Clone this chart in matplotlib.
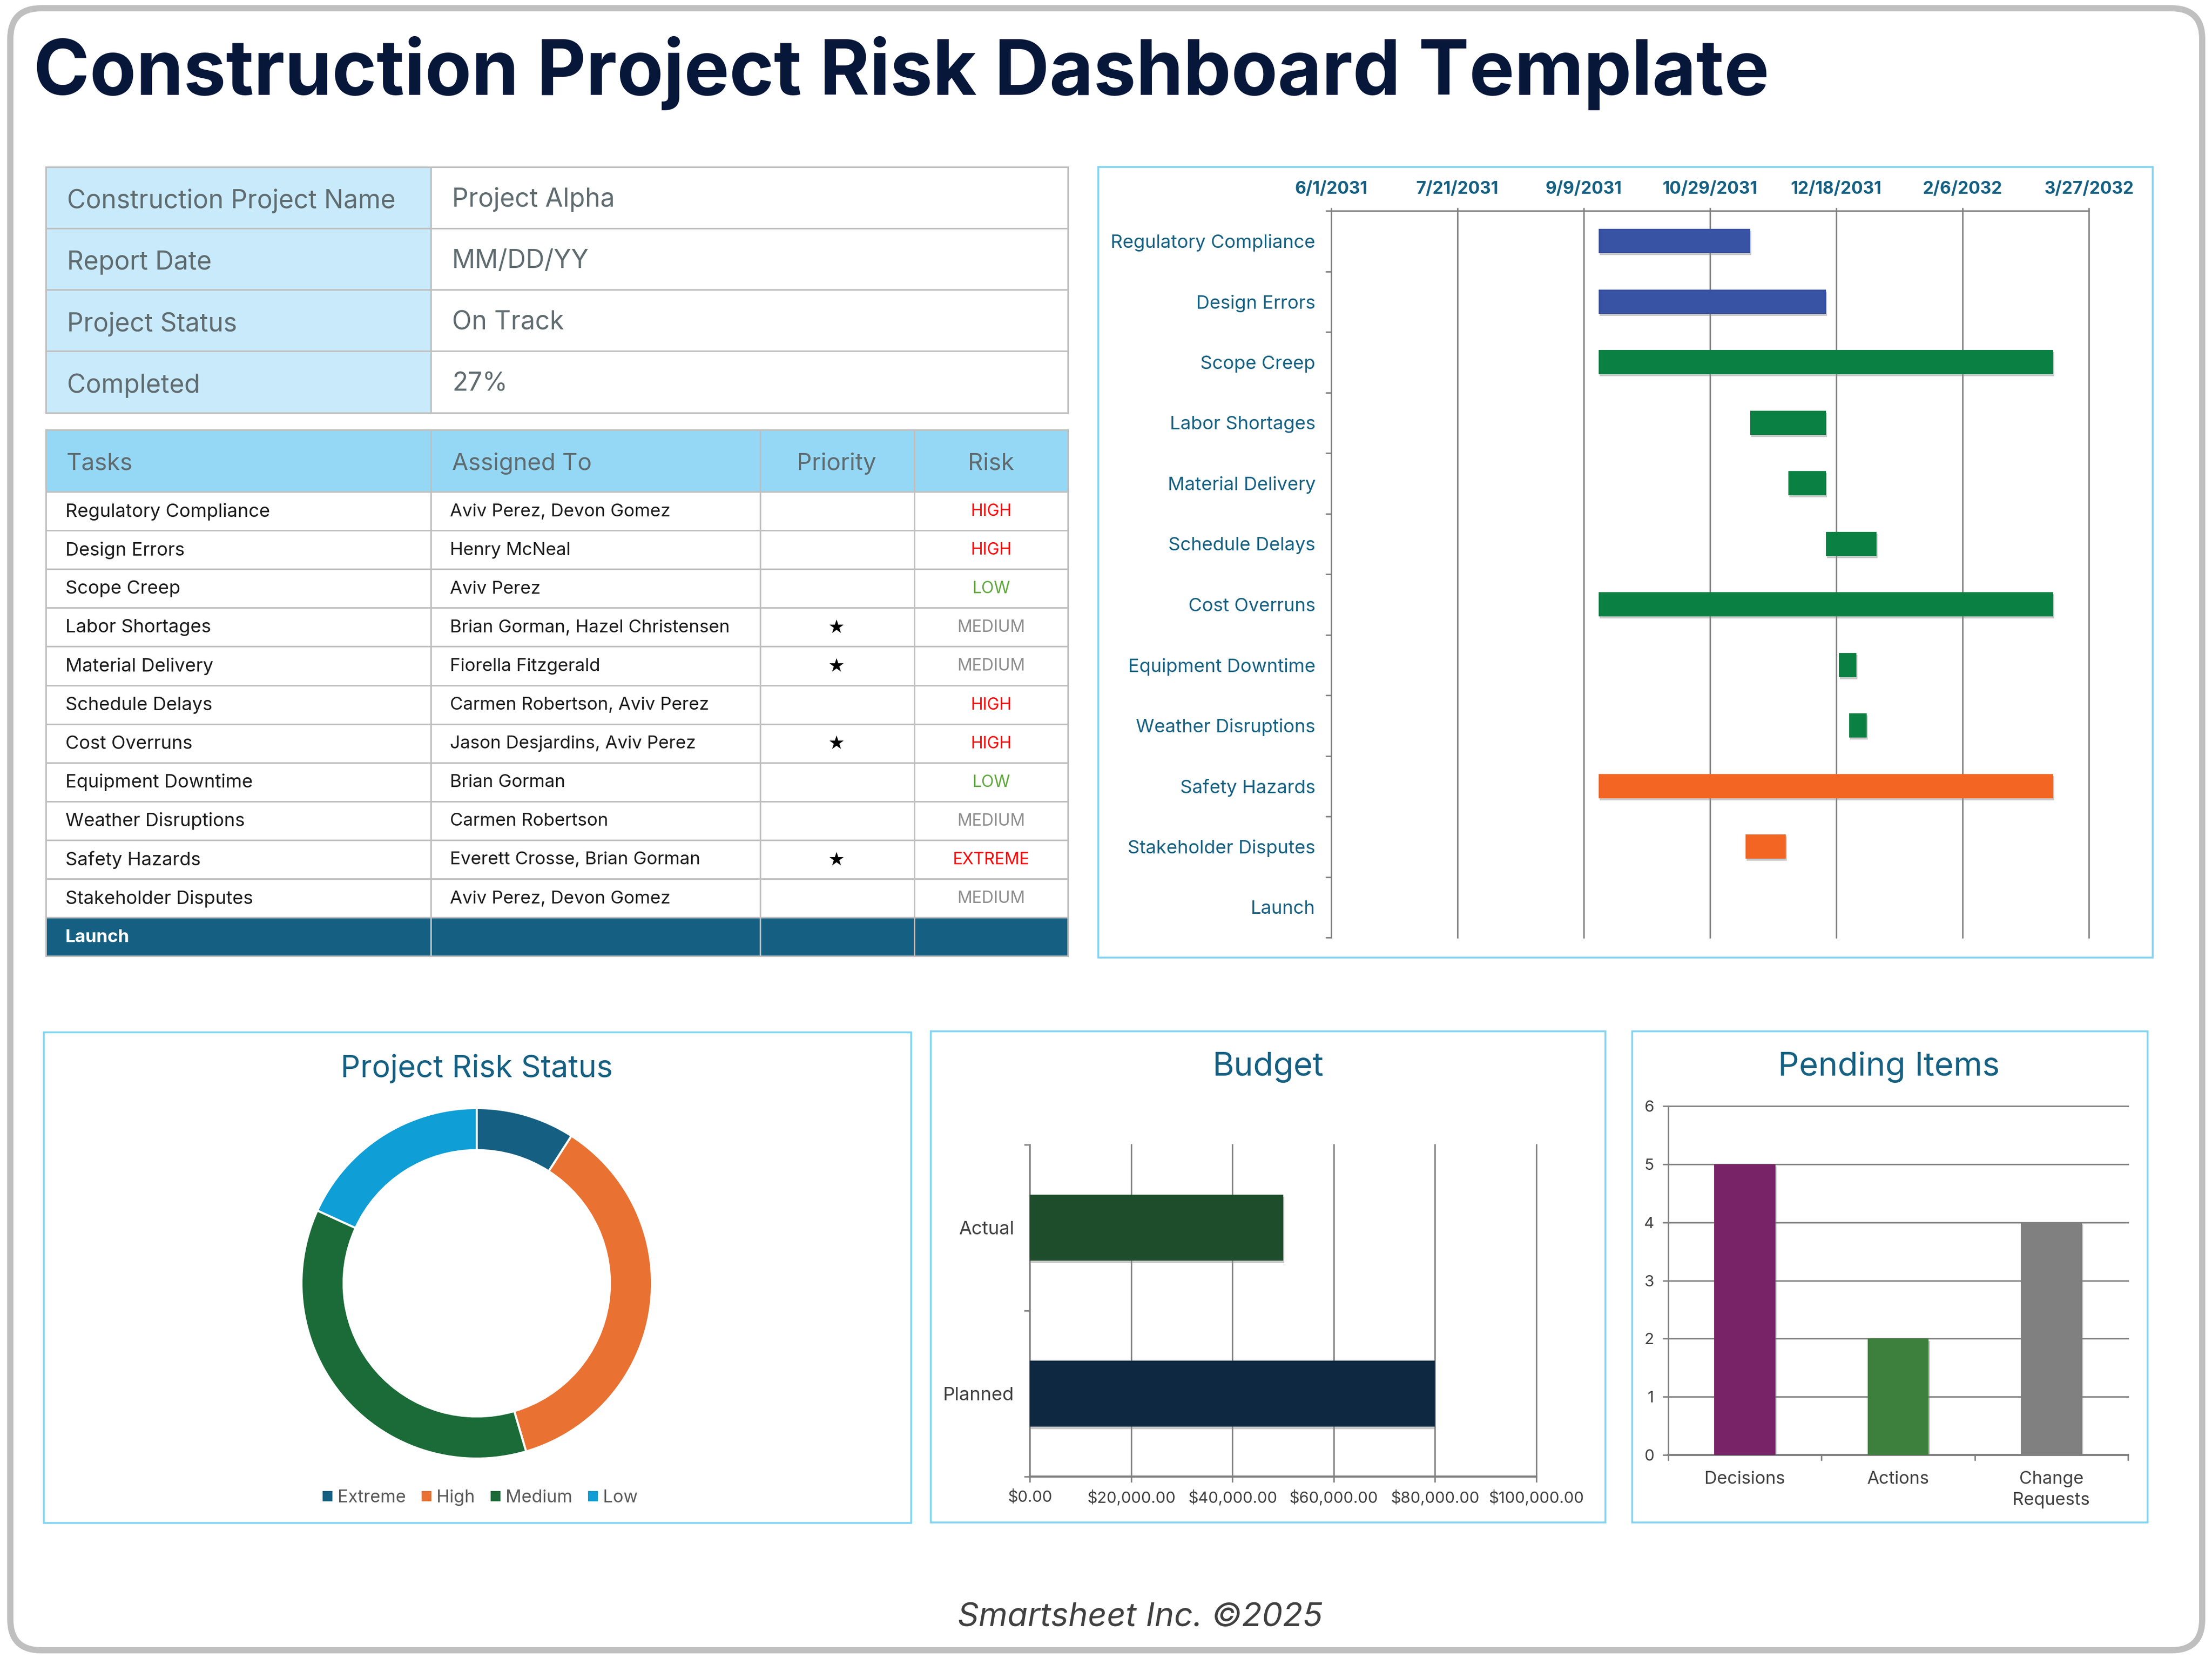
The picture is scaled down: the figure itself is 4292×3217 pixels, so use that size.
import matplotlib
matplotlib.use("Agg")
import matplotlib.pyplot as plt
import matplotlib.dates as mdates
import matplotlib.patheffects as pe
from matplotlib.patches import Rectangle, FancyBboxPatch, Patch
from datetime import date

W, H = 4292, 3217
FONT = ["Inter", "DejaVu Sans"]
plt.rcParams["font.family"] = FONT

# ---------- data ----------
title = "Construction Project Risk Dashboard Template"
footer = "Smartsheet Inc. ©2025"
info_labels = ["Construction Project Name", "Report Date", "Project Status", "Completed"]
info_values = ["Project Alpha", "MM/DD/YY", "On Track", "27%"]
table_headers = ["Tasks", "Assigned To", "Priority", "Risk"]
tasks = ["Regulatory Compliance", "Design Errors", "Scope Creep", "Labor Shortages",
         "Material Delivery", "Schedule Delays", "Cost Overruns", "Equipment Downtime",
         "Weather Disruptions", "Safety Hazards", "Stakeholder Disputes", "Launch"]
assigned = ["Aviv Perez, Devon Gomez", "Henry McNeal", "Aviv Perez", "Brian Gorman, Hazel Christensen",
            "Fiorella Fitzgerald", "Carmen Robertson, Aviv Perez", "Jason Desjardins, Aviv Perez",
            "Brian Gorman", "Carmen Robertson", "Everett Crosse, Brian Gorman",
            "Aviv Perez, Devon Gomez", ""]
priority = ["", "", "", "★", "★", "", "★", "", "", "★", "", ""]
risk = ["HIGH", "HIGH", "LOW", "MEDIUM", "MEDIUM", "HIGH", "HIGH", "LOW", "MEDIUM", "EXTREME", "MEDIUM", ""]

gantt_ticks = [date(2031, 6, 1), date(2031, 7, 21), date(2031, 9, 9), date(2031, 10, 29),
               date(2031, 12, 18), date(2032, 2, 6), date(2032, 3, 27)]
gantt_tick_labels = ["6/1/2031", "7/21/2031", "9/9/2031", "10/29/2031", "12/18/2031", "2/6/2032", "3/27/2032"]
gantt_start = [date(2031, 9, 15), date(2031, 9, 15), date(2031, 9, 15), date(2031, 11, 14),
               date(2031, 11, 29), date(2031, 12, 14), date(2031, 9, 15), date(2031, 12, 19),
               date(2031, 12, 23), date(2031, 9, 15), date(2031, 11, 12), None]
gantt_end = [date(2031, 11, 14), date(2031, 12, 14), date(2032, 3, 13), date(2031, 12, 14),
             date(2031, 12, 14), date(2032, 1, 3), date(2032, 3, 13), date(2031, 12, 26),
             date(2031, 12, 30), date(2032, 3, 13), date(2031, 11, 28), None]
gantt_colors = ["#3953A4", "#3953A4", "#0B8043", "#0B8043", "#0B8043", "#0B8043",
                "#0B8043", "#0B8043", "#0B8043", "#F26522", "#F26522", "#F26522"]

risk_labels = ["Extreme", "High", "Medium", "Low"]
risk_counts = [1, 4, 4, 2]
risk_colors = ["#156082", "#E97132", "#1B6B38", "#0F9ED5"]

budget_labels = ["Actual", "Planned"]
budget_values = [50000, 80000]
budget_colors = ["#1E4D2B", "#0E2841"]
budget_ticks = [0, 20000, 40000, 60000, 80000, 100000]

pending_labels = ["Decisions", "Actions", "Change\nRequests"]
pending_values = [5, 2, 4]
pending_colors = ["#782367", "#3D7F3D", "#808080"]

TEAL = "#156082"
GRID = "#808080"
FRAME = "#7FD4F2"
TXT = "#404040"
RISK_COL = {"HIGH": "#FF0000", "EXTREME": "#FF0000", "LOW": "#5FA83C", "MEDIUM": "#8C8C8C", "": "k"}


def pt(px):
    return px * 72 / 100


fig = plt.figure(figsize=(W / 100, H / 100), dpi=100, facecolor="white")
bg = fig.add_axes([0, 0, 1, 1])
bg.set_xlim(0, W)
bg.set_ylim(H, 0)
bg.axis("off")


def px_axes(x0, y0, x1, y1, **kw):
    return fig.add_axes([x0 / W, 1 - y1 / H, (x1 - x0) / W, (y1 - y0) / H], **kw)


def unclip(lines):
    for ln in lines:
        ln.set_clip_on(False)


shadow = [pe.SimplePatchShadow(offset=(1.5, -3), shadow_rgbFace="#888888", alpha=0.45), pe.Normal()]

# outer rounded frame
bg.add_patch(FancyBboxPatch((20 + 60, 16 + 60), 4253 - 120, 3186 - 120,
                            boxstyle="round,pad=60,rounding_size=60", fc="white", ec="#BFBFBF", lw=pt(12)))
bg.text(65, 142, title, fontsize=106, fontweight="bold", color="#06173A", va="center", ha="left")

# info table
LINE = "#BFBFBF"
xa, xb, xc, xd, xe = 89, 836, 1475, 1774, 2072
y0, rh = 323.5, 119.3
for i, (lab, val) in enumerate(zip(info_labels, info_values)):
    y = y0 + i * rh
    bg.add_patch(Rectangle((xa, y), xb - xa, rh, fc="#C9EAFA", ec=LINE, lw=pt(3)))
    bg.add_patch(Rectangle((xb, y), xe - xb, rh, fc="white", ec=LINE, lw=pt(3)))
    bg.text(130, y + rh / 2 + 7, lab, fontsize=36, color="#5F6B6F", va="center")
    bg.text(877, y + rh / 2 + 4, val, fontsize=36, color="#5F6B6F", va="center")

# task table
y1, hh, rr = 834, 120, 75.1
cols = [xa, xb, xc, xd, xe]
for j in range(4):
    bg.add_patch(Rectangle((cols[j], y1), cols[j + 1] - cols[j], hh, fc="#95D8F5", ec=LINE, lw=pt(3)))
bg.text(129, y1 + hh / 2 + 5, table_headers[0], fontsize=33, color="#5F6B6F", va="center")
bg.text(877, y1 + hh / 2 + 5, table_headers[1], fontsize=33, color="#5F6B6F", va="center")
bg.text(1623, y1 + hh / 2 + 5, table_headers[2], fontsize=33, color="#5F6B6F", va="center", ha="center")
bg.text(1923, y1 + hh / 2 + 5, table_headers[3], fontsize=33, color="#5F6B6F", va="center", ha="center")
for i, t in enumerate(tasks):
    y = y1 + hh + i * rr
    last = i == len(tasks) - 1
    for j in range(4):
        bg.add_patch(Rectangle((cols[j], y), cols[j + 1] - cols[j], rr,
                               fc=TEAL if last else "white", ec=LINE, lw=pt(3)))
    yc = y + rr / 2 + 1
    bg.text(127, yc, t, fontsize=25 if last else 26, color="white" if last else "#1A1A1A",
            fontweight="bold" if last else "normal", va="center")
    bg.text(873, yc, assigned[i], fontsize=25, color="#1A1A1A", va="center")
    bg.text(1623, yc, priority[i], fontsize=26, color="black", va="center", ha="center",
            family=["DejaVu Sans"])
    bg.text(1923, yc, risk[i], fontsize=23, color=RISK_COL[risk[i]], va="center", ha="center")

# panels
for (a, b, c, d) in [(2131, 324, 4177, 1858), (85, 2003, 1768, 2955), (1806, 2001, 3115, 2954), (3167, 2001, 4167, 2954)]:
    bg.add_patch(Rectangle((a, b), c - a, d - b, fc="white", ec=FRAME, lw=pt(3.5), zorder=1))

# ---------- Gantt ----------
ax = px_axes(2583, 409, 4053, 1819)
ypos = list(range(len(tasks)))
for i in ypos:
    if gantt_start[i] is None:
        continue
    s = mdates.date2num(gantt_start[i])
    e = mdates.date2num(gantt_end[i])
    ax.barh(i, e - s, left=s, height=0.4, color=gantt_colors[i], zorder=3,
            path_effects=shadow)
ax.set_xlim(mdates.date2num(gantt_ticks[0]), mdates.date2num(gantt_ticks[-1]))
ax.set_ylim(len(tasks) - 0.5, -0.5)
ax.xaxis.tick_top()
ax.set_xticks([mdates.date2num(d) for d in gantt_ticks])
ax.set_xticklabels(gantt_tick_labels, fontsize=24, fontweight="bold", color=TEAL)
ax.tick_params(axis="x", length=4, color=GRID, pad=15, width=2)
ax.grid(axis="x", color=GRID, lw=2, zorder=0)
unclip(ax.get_xgridlines())
ax.set_yticks(ypos)
ax.set_yticklabels(tasks, fontsize=26, color=TEAL)
ax.set_yticks([i - 0.5 for i in ypos] + [len(tasks) - 0.5], minor=True)
ax.tick_params(axis="y", which="major", length=0, pad=22)
ax.tick_params(axis="y", which="minor", length=8, color=GRID, width=2)
for sp in ["right", "bottom"]:
    ax.spines[sp].set_visible(False)
for sp in ["left", "top"]:
    ax.spines[sp].set_color(GRID)
    ax.spines[sp].set_linewidth(2)
ax.patch.set_alpha(0)

# ---------- Donut ----------
ax = px_axes(925 - 340, 2490 - 340, 925 + 340, 2490 + 340)
ax.pie(risk_counts, colors=risk_colors, startangle=90, counterclock=False, radius=1,
       wedgeprops=dict(width=0.24, edgecolor="white", linewidth=pt(4)))
ax.set_xlim(-1, 1)
ax.set_ylim(-1, 1)
bg.text(925, 2073, "Project Risk Status", fontsize=43, color=TEAL, ha="center", va="center")
handles = [Patch(fc=c, ec="none", label=l) for c, l in zip(risk_colors, risk_labels)]
fig.legend(handles=handles, loc="center", bbox_to_anchor=(932 / W, 1 - 2906 / H), ncol=4, frameon=False,
           fontsize=24.5, labelcolor="#595959", handlelength=0.55, handleheight=0.55,
           handletextpad=0.3, columnspacing=0.9)

# ---------- Budget ----------
ax = px_axes(1998, 2221, 2981, 2865)
ax.barh(range(len(budget_values)), budget_values, height=0.4, color=budget_colors, zorder=3, path_effects=shadow)
ax.set_xlim(0, 100000)
ax.set_ylim(1.5, -0.5)
ax.set_xticks(budget_ticks)
ax.set_xticklabels([f"${v:,.2f}" for v in budget_ticks], fontsize=22, color=TXT)
ax.tick_params(axis="x", length=8, color=GRID, pad=11, width=2)
ax.grid(axis="x", color=GRID, lw=2, zorder=0)
unclip(ax.get_xgridlines())
ax.set_yticks(range(len(budget_labels)))
ax.set_yticklabels(budget_labels, fontsize=26, color=TXT)
ax.set_yticks([-0.5, 0.5, 1.5], minor=True)
ax.tick_params(axis="y", which="major", length=0, pad=22)
ax.tick_params(axis="y", which="minor", length=8, color=GRID, width=2)
for sp in ["right", "top"]:
    ax.spines[sp].set_visible(False)
for sp in ["left", "bottom"]:
    ax.spines[sp].set_color(GRID)
    ax.spines[sp].set_linewidth(2)
ax.spines["bottom"].set_linewidth(3)
ax.patch.set_alpha(0)
bg.text(2460, 2070, "Budget", fontsize=46, color=TEAL, ha="center", va="center")

# ---------- Pending ----------
ax = px_axes(3237, 2146, 4129, 2823)
ax.bar(range(len(pending_values)), pending_values, width=0.4, color=pending_colors, zorder=3, path_effects=shadow)
ax.set_xlim(-0.5, 2.5)
ax.set_ylim(0, 6)
ax.set_yticks(range(7))
ax.set_yticklabels([str(v) for v in range(7)], fontsize=22, color=TXT)
ax.tick_params(axis="y", length=8, color=GRID, pad=12, width=2)
ax.grid(axis="y", color=GRID, lw=2, zorder=0)
unclip(ax.get_ygridlines())
ax.set_xticks(range(len(pending_labels)))
ax.set_xticklabels(pending_labels, fontsize=24.5, color=TXT, linespacing=1.39)
ax.set_xticks([-0.5, 0.5, 1.5, 2.5], minor=True)
ax.tick_params(axis="x", which="major", length=0, pad=22)
ax.tick_params(axis="x", which="minor", length=8, color=GRID, width=2)
for sp in ["right", "top"]:
    ax.spines[sp].set_visible(False)
for sp in ["left", "bottom"]:
    ax.spines[sp].set_color(GRID)
    ax.spines[sp].set_linewidth(2)
ax.spines["bottom"].set_linewidth(3)
ax.patch.set_alpha(0)
bg.text(3665, 2070, "Pending Items", fontsize=46, color=TEAL, ha="center", va="center")

bg.text(2212, 3139, footer, fontsize=46, style="italic", color=TXT, ha="center", va="center")

fig.savefig("out.png", dpi=100, facecolor="white")
